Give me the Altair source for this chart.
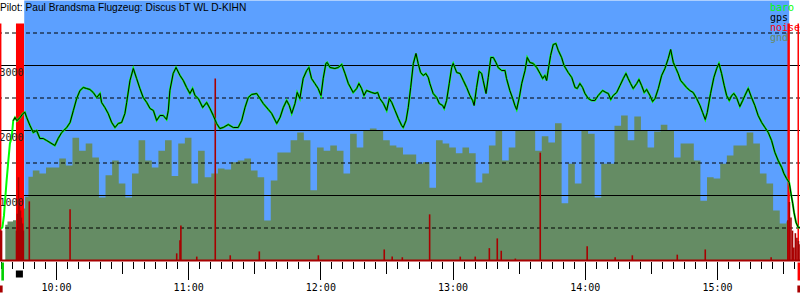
import altair as alt
import pandas as pd

TITLE = "Pilot: Paul Brandsma Flugzeug: Discus bT WL D-KIHN"
LEGEND_LABELS = ["baro", "gps", "noise", "gnd"]
LEGEND_COLORS = ["#00ff00", "#000000", "#ff0000", "#6a8a62"]
SKY = "#5ca0ff"
GND = "#658c64"
NOISE = "#a80000"

# ---- time in minutes after midnight ----
# barometric altitude (m)
baro_t = [575.0, 575.7, 576.4, 576.9, 577.6, 578.4, 579.1, 579.9, 580.6, 581.4, 582.3, 583.7, 585.0, 585.9,
          586.7, 588.2, 589.7, 591.2, 592.7, 594.2, 595.8, 597.3, 599.5, 601.0, 602.6, 604.9, 606.4, 607.9,
          609.4, 610.9, 612.4, 613.9, 615.4, 616.9, 618.5, 620.0, 620.7, 622.2, 623.7, 625.3, 626.8, 628.3,
          629.8, 631.3, 632.1, 633.6, 635.1, 636.6, 638.1, 639.6, 641.2, 642.7, 644.2, 645.7, 647.2, 648.7,
          650.2, 651.0, 651.7, 653.2, 654.5, 656.3, 657.8, 659.3, 660.8, 662.0, 663.1, 664.6, 666.6, 668.4,
          669.9, 671.4, 672.9, 674.4, 675.9, 678.2, 680.5, 682.7, 684.3, 685.8, 687.3, 688.8, 691.1, 692.6,
          694.1, 696.4, 697.9, 700.2, 701.7, 703.2, 704.7, 705.9, 707.0, 708.5, 709.5, 710.7, 712.2, 713.8,
          714.8, 716.0, 717.5, 719.0, 720.3, 721.3, 722.5, 723.1, 724.4, 726.6, 728.1, 729.7, 731.2, 732.7,
          734.9, 736.5, 737.5, 738.7, 739.8, 741.0, 743.3, 744.8, 746.0, 747.0, 748.6, 750.1, 751.3, 752.4,
          753.9, 755.4, 756.9, 757.6, 758.9, 759.9, 761.0, 762.2, 763.4, 764.4, 765.5, 766.7, 767.9, 769.0,
          769.7, 771.2, 772.8, 774.0, 775.5, 776.2, 777.3, 778.5, 779.6, 780.3, 781.9, 783.4, 784.9, 786.4,
          787.9, 789.1, 789.8, 790.9, 792.1, 793.2, 793.9, 795.2, 796.2, 797.4, 798.5, 799.7, 800.7, 802.3,
          803.8, 804.5, 806.0, 807.3, 808.3, 809.1, 810.3, 811.4, 812.9, 813.9, 815.1, 816.6, 818.2, 819.7,
          820.9, 821.9, 822.7, 823.4, 824.5, 825.7, 826.9, 828.0, 829.5, 830.6, 832.5, 834.1, 835.6, 836.6,
          837.8, 839.0, 840.1, 841.6, 843.1, 844.6, 846.1, 848.1, 849.6, 850.7, 851.8, 852.9, 854.5, 856.0,
          857.5, 858.7, 859.7, 860.8, 862.0, 863.6, 864.6, 865.8, 867.0, 868.1, 869.6, 870.8, 871.9, 873.4,
          874.9, 876.4, 877.9, 879.0, 880.2, 881.4, 882.4, 883.5, 884.7, 886.2, 887.7, 889.2, 890.8, 892.3,
          893.5, 894.7, 895.6, 897.1, 898.6, 899.9, 900.9, 902.1, 903.3, 904.4, 905.6, 906.7, 907.7, 908.9,
          910.4, 911.7, 912.7, 914.2, 915.7, 917.2, 918.7, 920.3, 921.8, 923.3, 924.8, 926.3, 927.8, 929.4,
          930.4, 931.6, 932.8, 933.6, 934.4, 935.0, 935.9, 936.9, 937.7]
baro_alt = [490, 510, 690, 920, 1230, 1540, 1800, 1890, 2150, 2200, 2150, 2200, 2260, 2280,
            2200, 2077, 1969, 2000, 1877, 1877, 1846, 1815, 1769, 1877, 1969, 2046, 2123, 2308,
            2492, 2615, 2662, 2646, 2631, 2585, 2508, 2569, 2431, 2354, 2262, 2123, 2046, 2108,
            2123, 2262, 2431, 2769, 2954, 2800, 2646, 2508, 2431, 2338, 2308, 2154, 2231, 2231,
            2169, 2308, 2615, 2877, 2969, 2846, 2769, 2662, 2569, 2646, 2538, 2492, 2354, 2431,
            2338, 2231, 2108, 2031, 2046, 2092, 2046, 2046, 2154, 2354, 2508, 2554, 2569, 2492,
            2415, 2323, 2262, 2108, 2200, 2354, 2462, 2385, 2262, 2415, 2585, 2492, 2800, 2923,
            2969, 2800, 2723, 2646, 2538, 2800, 3031, 3046, 2969, 2954, 2969, 3015, 2877, 2723,
            2585, 2646, 2723, 2646, 2538, 2615, 2585, 2569, 2585, 2492, 2415, 2308, 2492, 2431,
            2308, 2185, 2077, 2046, 2154, 2354, 2662, 3031, 3185, 3031, 2892, 2846, 2877, 2815,
            2723, 2569, 2508, 2415, 2385, 2338, 2462, 2723, 2969, 3031, 2892, 2877, 2769, 2662,
            2538, 2462, 2385, 2662, 2908, 2877, 2769, 2569, 2815, 3123, 3123, 3046, 2969, 2923,
            2923, 2800, 2615, 2492, 2385, 2323, 2508, 2723, 2923, 3123, 3046, 3031, 2969, 2877,
            2800, 2846, 2769, 2923, 3154, 3323, 3338, 3231, 3123, 3000, 2892, 2815, 2662, 2646,
            2723, 2662, 2569, 2492, 2462, 2462, 2538, 2615, 2585, 2569, 2477, 2538, 2585, 2692,
            2800, 2877, 2800, 2723, 2646, 2723, 2785, 2692, 2585, 2631, 2538, 2446, 2492, 2646,
            2846, 2954, 3108, 3246, 3046, 2954, 2877, 2769, 2723, 2662, 2615, 2585, 2492, 2385,
            2277, 2169, 2277, 2569, 2815, 2954, 3031, 2877, 2692, 2538, 2462, 2538, 2569, 2508,
            2369, 2462, 2538, 2646, 2508, 2385, 2231, 2123, 2046, 1969, 1846, 1662, 1538, 1431,
            1338, 1262, 1200, 1031, 877, 738, 585, 508, 508]
gps_first_t = 580.6  # GPS trace starts a little later than baro

# ground series (m), sampled every 3 minutes
gnd_t = [577, 579, 582, 585, 587, 588, 591, 594, 597, 600, 603, 606, 609, 612, 615, 618, 621, 624, 627, 630,
         633, 636, 639, 642, 645, 648, 651, 654, 657, 660, 663, 666, 669, 672, 675, 678, 681, 684, 687, 690,
         693, 696, 699, 702, 705, 708, 711, 714, 717, 720, 723, 726, 729, 732, 735, 738, 741, 744, 747, 750,
         753, 756, 759, 762, 765, 768, 771, 774, 777, 780, 783, 786, 789, 792, 795, 798, 801, 804, 807, 810,
         813, 816, 819, 822, 825, 828, 831, 834, 837, 840, 843, 846, 849, 852, 855, 858, 861, 864, 867, 870,
         873, 876, 879, 882, 885, 888, 891, 894, 897, 900, 903, 906, 909, 912, 915, 918, 921, 924, 927, 930,
         933]
gnd_alt = [550, 600, 620, 800, 980, 1290, 1385, 1340, 1430, 1430, 1570, 1460, 1890, 1690, 1800, 1585, 970, 1310, 1540, 1185,
           970, 1340, 1850, 1540, 1430, 1690, 1850, 1300, 1800, 1890, 1185, 1690, 1280, 1340, 1415, 1400, 1510, 1540, 1570, 1385,
           1280, 615, 1230, 1660, 1660, 1850, 1970, 1850, 1080, 1740, 1690, 1770, 1690, 1340, 1950, 1740, 2000, 2030, 2000, 1850,
           1770, 1740, 1630, 1630, 1490, 1510, 1120, 1850, 1800, 1740, 1650, 1740, 1650, 1200, 1340, 1770, 2000, 1540, 1740, 2000,
           2000, 2000, 1690, 1910, 1815, 2110, 880, 1490, 1185, 2000, 1950, 970, 1490, 1490, 2075, 2230, 1850, 2215, 2000, 1740,
           1985, 2090, 2000, 1585, 1800, 1800, 1540, 920, 1280, 1260, 1490, 1615, 1770, 1770, 1970, 1800, 1340, 1185, 770, 570,
           600]

# noise (ENL) spikes
noise_t = [574.8, 575.3, 582.1, 582.5, 583.0, 583.4, 583.9, 584.3, 584.8, 585.2, 587.9, 606.4, 654.8, 656.3, 656.7,
           663.9, 672.3, 679.1, 692.3, 719.1, 749.0, 752.6, 757.2, 769.6, 783.5, 790.3, 796.7, 800.3, 802.1, 808.5,
           819.8, 841.1, 853.8, 861.6, 882.0, 894.7, 924.6, 932.2, 932.9, 933.6, 934.3, 934.9, 935.6, 936.3, 937.0, 937.7]
noise_val = [460, 460, 460, 720, 1280, 890, 770, 660, 570, 460, 910, 790, 110, 310, 540,
             60, 2800, 80, 140, 80, 170, 60, 50, 710, 60, 60, 190, 340, 150, 30,
             1660, 220, 50, 80, 90, 170, 50, 620, 900, 660, 460, 200, 420, 350, 300, 250]

# engine / high-noise blocks and marker lines
engine_t0 = [581.85, 932.0]
engine_t1 = [585.5, 933.1]
engine_level = [3646, 3646]
mark_line_t = [574.9, 936.9]
mark_line_level = [3646, 3646]

flight_t0 = 585.6
flight_t1 = 932.8

grid_major = [1000, 2000, 3000]
grid_minor = [500, 1500, 2500, 3500]
tick_times = list(range(575, 940, 5))

# events under the axis
ev_t0 = [575.2, 936.6, 581.8, 574.6, 936.5]
ev_t1 = [576.4, 937.7, 585.0, 575.8, 937.7]
ev_color = ["#00d000", "#ff0000", "#000000", NOISE, NOISE]
ev_row = [0, 0, 1, 2, 2]

xs = alt.Scale(domain=[574.6, 937.7], nice=False, zero=False)
ys = alt.Scale(domain=[0, 4000], nice=False, zero=False)

xaxis = alt.Axis(
    values=tick_times, title=None, domain=False, grid=False,
    tickColor="black", tickWidth=1,
    tickSize={"condition": [{"test": "datum.value % 60 === 0", "value": 18},
                            {"test": "datum.value % 30 === 0", "value": 12}], "value": 7},
    labelExpr="datum.value % 60 === 0 ? floor(datum.value / 60) + ':00' : ''",
    labelFont="DejaVu Sans Mono", labelFontSize=10, labelColor="black",
    labelPadding=3, labelOverlap=False, labelFlush=False, offset=1,
)
yaxis = alt.Axis(
    values=grid_major, title=None, domain=False, grid=False, ticks=False, tickSize=0,
    format="d", labelAlign="left", labelBaseline="top", labelPadding=1, labelOffset=1.5,
    labelFont="DejaVu Sans Mono", labelFontSize=10, labelColor="#222222", zindex=1,
)

def X(f):
    return alt.X(f, scale=xs, axis=xaxis)

def Y(f):
    return alt.Y(f, scale=ys, axis=yaxis)

bg = alt.Chart(pd.DataFrame({"t0": [flight_t0], "t1": [flight_t1], "top": [4000], "z": [0]})).mark_rect(
    color=SKY).encode(x=X("t0:Q"), x2="t1:Q", y=Y("top:Q"), y2="z:Q")

gnd_df = pd.DataFrame({"t": gnd_t, "v": gnd_alt})
gnd = alt.Chart(gnd_df).mark_area(color=GND, interpolate="step").encode(x=X("t:Q"), y=Y("v:Q"))

g1 = alt.Chart(pd.DataFrame({"v": grid_major})).mark_rule(color="black", strokeWidth=1).encode(y=Y("v:Q"))
g2 = alt.Chart(pd.DataFrame({"v": grid_minor})).mark_rule(color="black", strokeWidth=1, strokeDash=[4, 3]).encode(y=Y("v:Q"))

eng = alt.Chart(pd.DataFrame({"t0": engine_t0, "t1": engine_t1, "v": engine_level, "z": [0, 0]})).mark_rect(
    color="#ff0000").encode(x=X("t0:Q"), x2="t1:Q", y=Y("v:Q"), y2="z:Q")
mlines = alt.Chart(pd.DataFrame({"t": mark_line_t, "v": mark_line_level, "z": [0, 0]})).mark_rule(
    color="#ff0000", strokeWidth=1.5).encode(x=X("t:Q"), y=Y("v:Q"), y2="z:Q")

noise = alt.Chart(pd.DataFrame({"t": noise_t, "v": noise_val, "z": [0] * len(noise_t)})).mark_rule(
    color=NOISE, strokeWidth=1.6).encode(x=X("t:Q"), y=Y("v:Q"), y2="z:Q")
base = alt.Chart(pd.DataFrame({"v": [0]})).mark_rule(color=NOISE, strokeWidth=2).encode(y=Y("v:Q"))

line_df = pd.DataFrame({"t": baro_t, "v": baro_alt})
baro = alt.Chart(line_df).mark_line(color="#00ff00", strokeWidth=2).encode(x=X("t:Q"), y=Y("v:Q"))
gps = alt.Chart(line_df[line_df.t >= gps_first_t]).mark_line(color="black", strokeWidth=1).encode(
    x=X("t:Q"), y=Y("v:Q"))

title = alt.Chart(pd.DataFrame({"s": [TITLE]})).mark_text(
    align="left", baseline="alphabetic", font="Liberation Sans", fontSize=10.2, color="black").encode(
    text="s:N", x=alt.value(0), y=alt.value(10))

legend_layers = []
for i, (lab, col) in enumerate(zip(LEGEND_LABELS, LEGEND_COLORS)):
    legend_layers.append(alt.Chart(pd.DataFrame({"s": [lab]})).mark_text(
        align="left", baseline="alphabetic", font="DejaVu Sans Mono", fontSize=10, color=col).encode(
        text="s:N", x=alt.value(770), y=alt.value(10 + 10.3 * i)))

ev_layers = []
row_y = [(262, 280), (270, 277), (285, 292)]
for a, b, c, r in zip(ev_t0, ev_t1, ev_color, ev_row):
    ev_layers.append(alt.Chart(pd.DataFrame({"t0": [a], "t1": [b]})).mark_rect(color=c).encode(
        x=X("t0:Q"), x2="t1:Q", y=alt.value(row_y[r][0]), y2=alt.value(row_y[r][1])))

chart = alt.layer(bg, gnd, g1, g2, eng, mlines, noise, base, baro, gps, title, *legend_layers, *ev_layers).properties(
    width=800, height=260, autosize="none",
    padding={"left": 0, "top": 0.5, "right": 0, "bottom": 39.5},
).configure_view(stroke=None)

chart.save("out.html", embed_options={"renderer": "svg", "actions": False})
